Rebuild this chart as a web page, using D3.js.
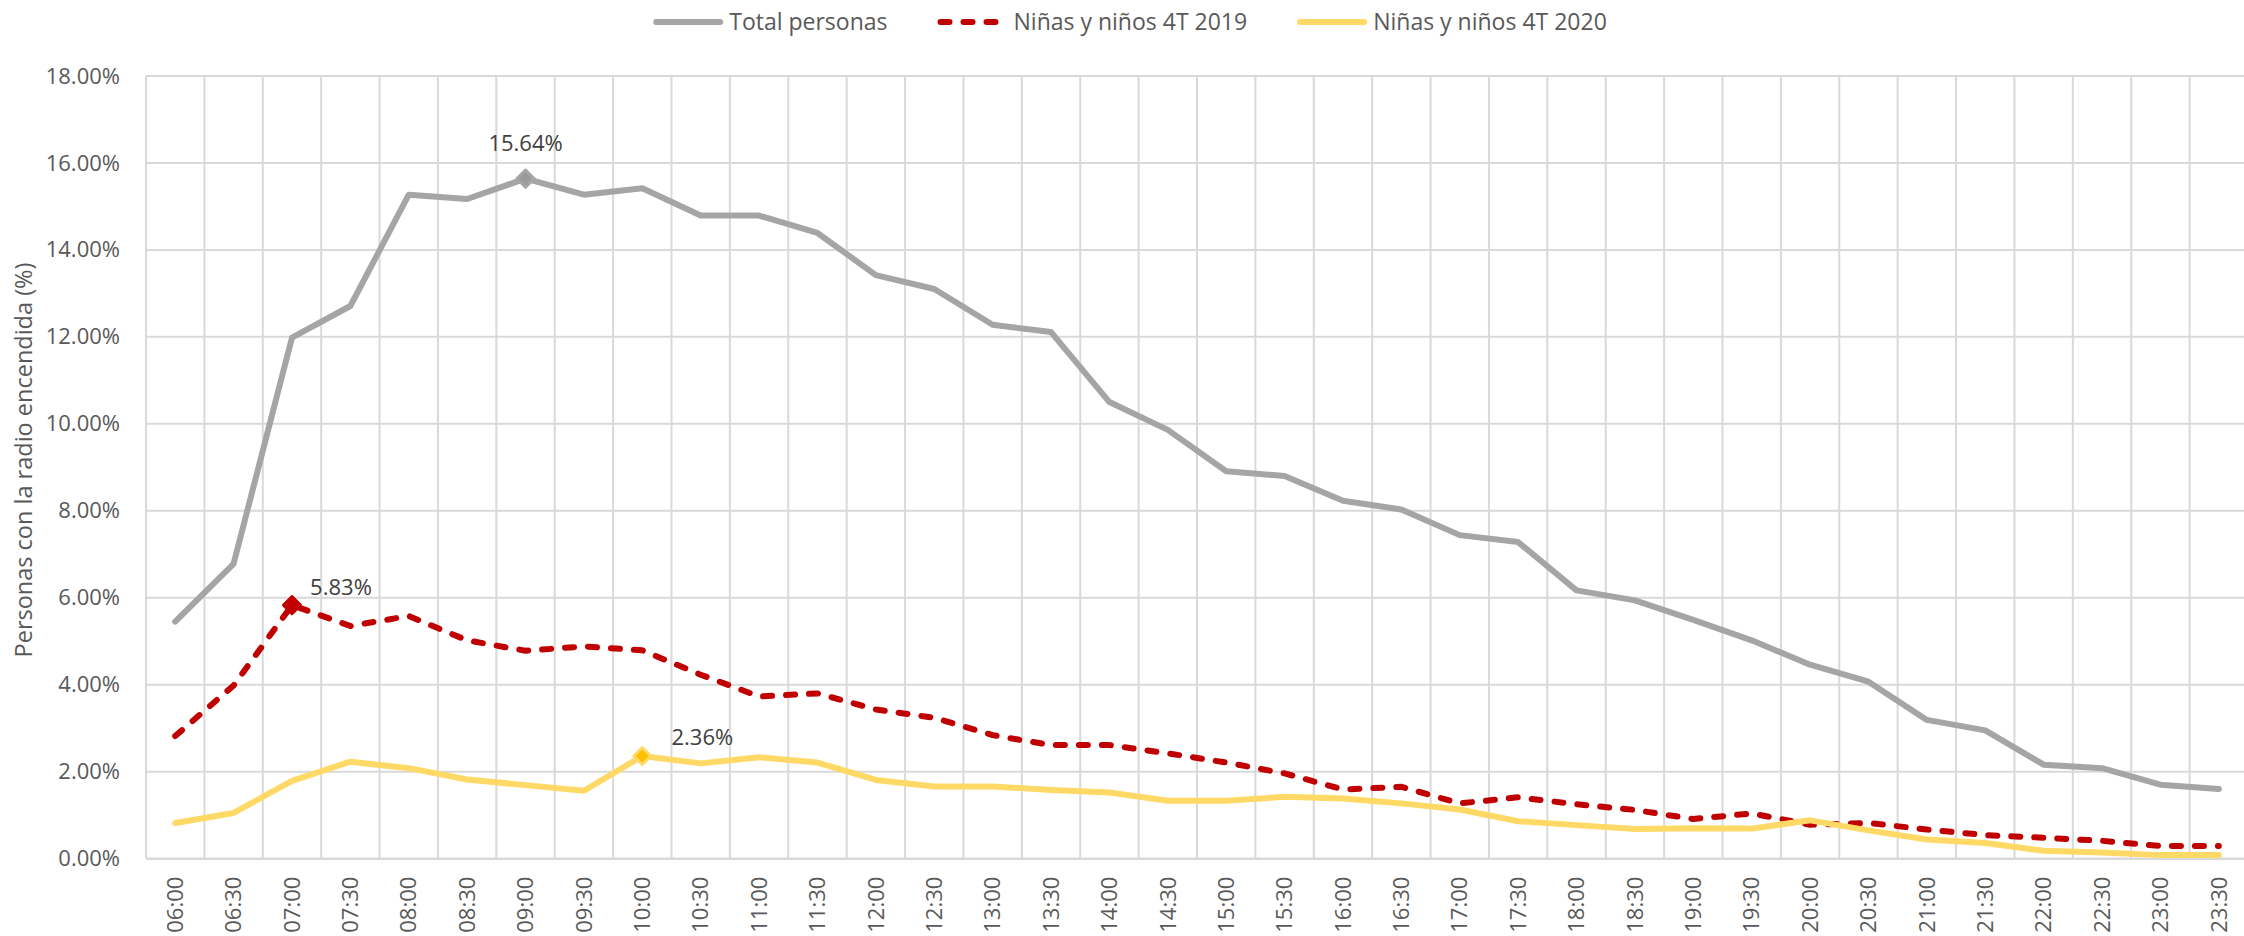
<!DOCTYPE html>
<html>
<head>
<meta charset="utf-8">
<script src="https://cdn.jsdelivr.net/npm/d3@7"></script>
<style>
body { margin: 0; background: #fff; }
text { font-family: "Open Sans", "Noto Sans", sans-serif; }
</style>
</head>
<body>
<svg id="chart" width="2244" height="936"></svg>
<script>
const horas = ["06:00","06:30","07:00","07:30","08:00","08:30","09:00","09:30","10:00","10:30",
	"11:00","11:30","12:00","12:30","13:00","13:30","14:00","14:30","15:00","15:30",
	"16:00","16:30","17:00","17:30","18:00","18:30","19:00","19:30","20:00","20:30",
	"21:00","21:30","22:00","22:30","23:00","23:30"]

const totalPersonas = [5.45, 6.78, 11.98, 12.71, 15.27, 15.17, 15.64, 15.27, 15.42, 14.79,
	14.79, 14.39, 13.42, 13.10, 12.28, 12.11, 10.50, 9.86, 8.91, 8.80,
	8.23, 8.03, 7.44, 7.28, 6.17, 5.94, 5.49, 5.02, 4.46, 4.07,
	3.19, 2.95, 2.16, 2.08, 1.70, 1.60]

const ninos2019 = [2.82, 3.98, 5.83, 5.35, 5.58, 5.02, 4.78, 4.88, 4.79, 4.23,
	3.73, 3.80, 3.43, 3.24, 2.84, 2.61, 2.61, 2.42, 2.21, 1.96,
	1.59, 1.65, 1.27, 1.41, 1.25, 1.12, 0.91, 1.04, 0.78, 0.82,
	0.67, 0.54, 0.48, 0.41, 0.29, 0.29]

const ninos2020 = [0.82, 1.05, 1.79, 2.23, 2.08, 1.82, 1.69, 1.56, 2.36, 2.19,
	2.33, 2.21, 1.81, 1.66, 1.66, 1.58, 1.52, 1.33, 1.33, 1.42,
	1.38, 1.27, 1.13, 0.86, 0.77, 0.68, 0.70, 0.69, 0.88, 0.65,
	0.44, 0.36, 0.18, 0.14, 0.08, 0.08]

const yTicks = [0, 2, 4, 6, 8, 10, 12, 14, 16, 18]

// series + the one highlighted point on each (the max)
const series = [
	{ name: "Total personas", values: totalPersonas, color: "#A5A5A5", markerFill: "#9A9A9A", markerStroke: "#A5A5A5", dash: null, peak: "09:00" },
	{ name: "Niñas y niños 4T 2019", values: ninos2019, color: "#C00000", markerFill: "#C00000", markerStroke: "#C00000", dash: "9,14", peak: "07:00" },
	{ name: "Niñas y niños 4T 2020", values: ninos2020, color: "#FFD966", markerFill: "#FFC000", markerStroke: "#FFD966", dash: null, peak: "10:00" }
]
// where each data label sits relative to its point
const labelOffsets = [[0, -35], [49, -18], [60, -19]]

const svg = d3.select("#chart")
const plot = { left: 146, right: 2248, top: 76, bottom: 858.6 }

const x = d3.scaleBand().domain(horas).range([plot.left, plot.right]).padding(0)
const y = d3.scaleLinear().domain([0, 18]).range([plot.bottom, plot.top])
const cx = h => x(h) + x.bandwidth() / 2
const fmt = v => d3.format(".2f")(v) + "%"

// gridlines
const grid = svg.append("g")
grid.selectAll(".hgrid")
	.data(yTicks)
	.enter()
	.append("line")
	.attr("x1", plot.left)
	.attr("x2", plot.right)
	.attr("y1", d => y(d))
	.attr("y2", d => y(d))
	.attr("stroke", "#D9D9D9")
	.attr("stroke-width", 2)
grid.selectAll(".vgrid")
	.data(horas)
	.enter()
	.append("line")
	.attr("x1", d => x(d))
	.attr("x2", d => x(d))
	.attr("y1", plot.top)
	.attr("y2", plot.bottom)
	.attr("stroke", "#D9D9D9")
	.attr("stroke-width", 2)

// y axis
const yAxis = svg.append("g")
	.attr("transform", `translate(${plot.left},0)`)
	.call(d3.axisLeft(y).tickValues(yTicks).tickSize(0).tickPadding(26).tickFormat(fmt))
yAxis.select(".domain").remove()
yAxis.selectAll("text")
	.attr("fill", "#595959")
	.style("font-size", "22px")
	.style("font-family", "'Open Sans', sans-serif")

// x axis
const xAxis = svg.append("g")
	.attr("transform", `translate(0,${plot.bottom})`)
	.call(d3.axisBottom(x).tickSize(0))
xAxis.select(".domain").attr("stroke", "#D9D9D9").attr("stroke-width", 2)
xAxis.selectAll("text")
	.attr("transform", "rotate(-90)")
	.attr("text-anchor", "end")
	.attr("x", -18)
	.attr("y", 0)
	.attr("dy", "0.35em")
	.attr("fill", "#595959")
	.style("font-size", "22px")
	.style("font-family", "'Open Sans', sans-serif")

// y title
svg.append("text")
	.attr("transform", `translate(24,460) rotate(-90)`)
	.attr("text-anchor", "middle")
	.attr("dy", "0.35em")
	.attr("fill", "#595959")
	.style("font-size", "23.5px")
	.text("Personas con la radio encendida (%)")

// lines
const line = d3.line()
	.x((d, i) => cx(horas[i]))
	.y(d => y(d))

series.forEach(s => {
	svg.append("path")
		.datum(s.values)
		.attr("d", line)
		.attr("fill", "none")
		.attr("stroke", s.color)
		.attr("stroke-width", 6)
		.attr("stroke-linejoin", "round")
		.attr("stroke-linecap", "round")
		.attr("stroke-dasharray", s.dash)
})

// peak markers + labels
const diamond = r => `M0,${-r}L${r},0L0,${r}L${-r},0Z`
series.forEach((s, k) => {
	const i = horas.indexOf(s.peak)
	const px = cx(s.peak)
	const py = y(s.values[i])
	svg.append("path")
		.attr("d", diamond(8.5))
		.attr("transform", `translate(${px},${py})`)
		.attr("fill", s.markerFill)
		.attr("stroke", s.markerStroke)
		.attr("stroke-width", 3)
		.attr("stroke-linejoin", "round")
	svg.append("text")
		.attr("x", px + labelOffsets[k][0])
		.attr("y", py + labelOffsets[k][1])
		.attr("dy", "0.35em")
		.attr("text-anchor", "middle")
		.attr("fill", "#404040")
		.style("font-size", "22px")
		.text(fmt(s.values[i]))
})

// legend
const legend = svg.append("g")
let lx = 0
series.forEach(s => {
	const item = legend.append("g").attr("transform", `translate(${lx},0)`)
	item.append("line")
		.attr("x1", 3)
		.attr("x2", 67)
		.attr("y1", 0)
		.attr("y2", 0)
		.attr("stroke", s.color)
		.attr("stroke-width", 6)
		.attr("stroke-linecap", "round")
		.attr("stroke-dasharray", s.dash)
	const t = item.append("text")
		.attr("x", 76)
		.attr("dy", "0.35em")
		.attr("fill", "#595959")
		.style("font-size", "23px")
		.text(s.name)
	lx += 76 + t.node().getComputedTextLength() + 50
})
const legendWidth = lx - 50
legend.attr("transform", `translate(${1130 - legendWidth / 2},22)`)
</script>
</body>
</html>
